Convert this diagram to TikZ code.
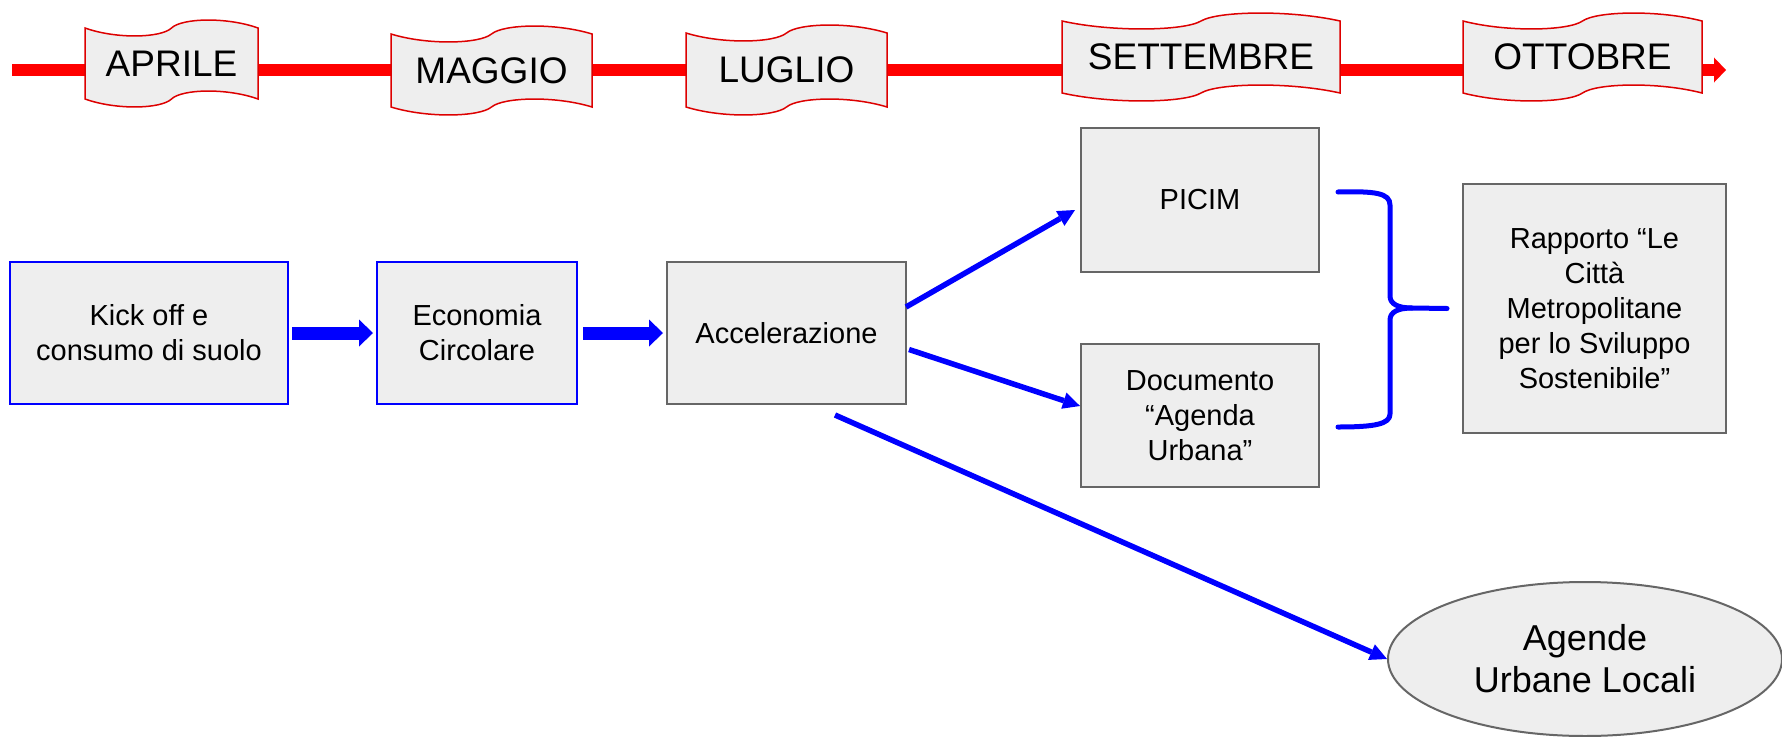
\documentclass[tikz,border=0pt]{standalone}
\usepackage{fontspec}
\setmainfont{Liberation Sans}
\usetikzlibrary{calc,arrows.meta,shapes.geometric}
\pgfdeclarelayer{bg}
\pgfsetlayers{bg,main}
\definecolor{boxfill}{HTML}{EEEEEE}
\definecolor{boxgray}{HTML}{666666}
\definecolor{tlred}{HTML}{FF0000}
\definecolor{scrollred}{HTML}{DD0000}
\definecolor{arrblue}{HTML}{0000FF}
\newcommand\wavebox[2]{%
  \path[scrollshape] (#1.north west)
   .. controls ($(#1.north west)!0.18!(#1.north east)+(0,1.4*#2)$) and ($(#1.north west)!0.44!(#1.north east)+(0,1.25*#2)$) .. (#1.north)
   .. controls ($(#1.north west)!0.56!(#1.north east)+(0,-1.25*#2)$) and ($(#1.north west)!0.82!(#1.north east)+(0,-1.4*#2)$) .. (#1.north east)
   -- (#1.south east)
   .. controls ($(#1.south west)!0.82!(#1.south east)+(0,-1.4*#2)$) and ($(#1.south west)!0.56!(#1.south east)+(0,-1.25*#2)$) .. (#1.south)
   .. controls ($(#1.south west)!0.44!(#1.south east)+(0,1.25*#2)$) and ($(#1.south west)!0.18!(#1.south east)+(0,1.4*#2)$) .. (#1.south west)
   -- cycle;}
\begin{document}
\begin{tikzpicture}[x=1pt,y=-1pt,
  month/.style={rectangle,inner sep=0pt,outer sep=0pt,font=\fontsize{37}{44}\selectfont},
  scrollshape/.style={draw=scrollred,line width=1.5pt,fill=boxfill},
  boxb/.style={rectangle,draw=arrblue,line width=1.5pt,fill=boxfill,inner sep=0pt,outer sep=0pt,align=center,font=\fontsize{29}{35}\selectfont},
  boxg/.style={rectangle,draw=boxgray,line width=2pt,fill=boxfill,inner sep=0pt,outer sep=0pt,align=center,font=\fontsize{29}{35}\selectfont},
  tl/.style={draw=tlred,line width=12pt},
  fat/.style={draw=arrblue,line width=13pt,-{Triangle[length=14pt,width=27pt,line width=0pt]}},
  thinarr/.style={draw=arrblue,line width=5.5pt,-{Triangle[length=17pt,width=17pt,line width=0pt]}},
  bracestyle/.style={draw=arrblue,line width=5pt,line cap=round,line join=round}]
\useasboundingbox (0,0) rectangle (1782,736);

% month scrolls (text nodes)
\node[month,minimum width=173pt,minimum height=71pt] (apr) at (171.5,63.5) {APRILE};
\node[month,minimum width=201pt,minimum height=73pt] (mag) at (491.5,70.5) {MAGGIO};
\node[month,minimum width=201pt,minimum height=74pt] (lug) at (786.5,70) {LUGLIO};
\node[month,minimum width=278pt,minimum height=72pt] (set) at (1201,57) {SETTEMBRE};
\node[month,minimum width=239pt,minimum height=72pt] (ott) at (1582.5,57) {OTTOBRE};
\coordinate (tl0) at (12,70);
\coordinate (tl1) at (1726,70);

\begin{pgfonlayer}{bg}
  \draw[tl] (tl0) -- (tl0 -| apr.west);
  \draw[tl] (tl0 -| apr.east) -- (tl0 -| mag.west);
  \draw[tl] (tl0 -| mag.east) -- (tl0 -| lug.west);
  \draw[tl] (tl0 -| lug.east) -- (tl0 -| set.west);
  \draw[tl] (tl0 -| set.east) -- (tl0 -| ott.west);
  \draw[tl,-{Triangle[length=12pt,width=25pt,line width=0pt]}] (tl0 -| ott.east) -- (tl1);
  \wavebox{apr}{8}
  \wavebox{mag}{8}
  \wavebox{lug}{8}
  \wavebox{set}{8}
  \wavebox{ott}{8}
\end{pgfonlayer}

% boxes
\node[boxb,minimum width=278pt,minimum height=142pt] (kick) at (149,333) {Kick off e\\consumo di suolo};
\node[boxb,minimum width=200pt,minimum height=142pt] (eco) at (477,333) {Economia\\Circolare};
\node[boxg,minimum width=239pt,minimum height=142pt] (acc) at (786.5,333) {Accelerazione};
\node[boxg,minimum width=238pt,minimum height=144pt] (picim) at (1200,200) {PICIM};
\node[boxg,minimum width=238pt,minimum height=143pt] (doc) at (1200,415.5) {Documento\\“Agenda\\Urbana”};
\node[boxg,minimum width=263pt,minimum height=249pt] (rap) at (1594.5,308.5) {Rapporto “Le\\Città\\Metropolitane\\per lo Sviluppo\\Sostenibile”};
\node[ellipse,draw=boxgray,line width=2pt,fill=boxfill,inner sep=0pt,minimum width=394pt,minimum height=154pt,align=center,font=\fontsize{36}{42}\selectfont] (ell) at (1585,659) {Agende\\Urbane Locali};

% connectors
\draw[fat,shorten <=4pt,shorten >=4pt] (kick) -- (eco);
\draw[fat,shorten <=6pt,shorten >=4pt] (eco) -- (acc);
\draw[thinarr] ($(acc.north east)+(0,45)$) -- ($(picim.west)+(-6,10)$);
\draw[thinarr] ($(acc.east)+(3,16.5)$) -- ($(doc.west)+(-1,-9.5)$);
\draw[thinarr] ($(acc.south)+(48.5,11)$) -- (ell.west);

% brace
\coordinate (bt) at ($(picim.east)+(19,-8)$);
\coordinate (bb) at ($(doc.east)+(19,11.5)$);
\coordinate (btip) at ($(rap.west)+(-16,0)$);
\draw[bracestyle] (bt) .. controls (1375,191) and (1390,193) .. (1390,205) -- (1390,296) .. controls (1390,304) and (1398,308) .. (1412,308) -- (btip);
\draw[bracestyle] (1412,308) .. controls (1398,308) and (1390,312) .. (1390,320) -- (1390,414) .. controls (1390,424) and (1375,427) .. (bb);
\end{tikzpicture}
\end{document}
